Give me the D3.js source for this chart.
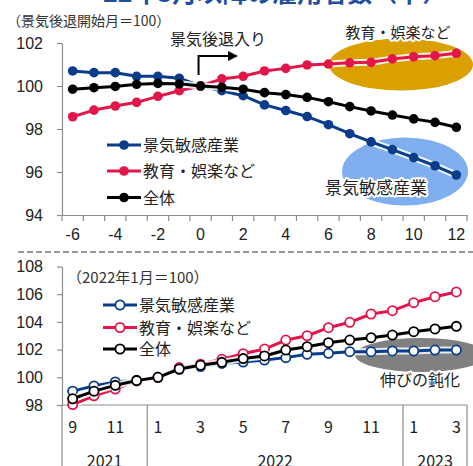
<!DOCTYPE html>
<html>
<head>
<meta charset="utf-8">
<script src="https://cdn.jsdelivr.net/npm/d3@7"></script>
<style>
body { margin: 0; background: #fff; }
svg { display: block; font-family: "Noto Sans CJK JP", "Noto Sans", sans-serif; }
</style>
</head>
<body>
<svg id="chart" width="473" height="466"></svg>
<script>
// upper panel: months from recession start (start month = 100)
const topMonths = [-6, -5, -4, -3, -2, -1, 0, 1, 2, 3, 4, 5, 6, 7, 8, 9, 10, 11, 12];
const topSensitive = [100.70, 100.62, 100.62, 100.45, 100.45, 100.36, 100.00, 99.78, 99.55, 99.12, 98.86, 98.58, 98.20, 97.78, 97.40, 97.04, 96.67, 96.29, 95.86];
const topEducation = [98.57, 98.88, 99.07, 99.24, 99.52, 99.78, 100.00, 100.33, 100.45, 100.70, 100.82, 100.98, 101.02, 101.08, 101.10, 101.26, 101.36, 101.41, 101.52];
const topTotal = [99.85, 99.92, 99.98, 100.08, 100.12, 100.10, 100.00, 99.94, 99.85, 99.69, 99.60, 99.47, 99.27, 99.04, 98.84, 98.65, 98.47, 98.31, 98.08];
const topTicks = [94, 96, 98, 100, 102];

// lower panel: 2021/9 - 2023/3 (2022/1 = 100)
const botMonths = ["2021/9", "2021/10", "2021/11", "2021/12", "2022/1", "2022/2", "2022/3", "2022/4", "2022/5", "2022/6",
  "2022/7", "2022/8", "2022/9", "2022/10", "2022/11", "2022/12", "2023/1", "2023/2", "2023/3"];
const botSensitive = [99.00, 99.38, 99.66, 99.78, 100.00, 100.58, 100.78, 101.00, 101.10, 101.25, 101.42, 101.66, 101.73, 101.85, 101.85, 101.90, 101.90, 101.97, 101.97];
const botEducation = [98.03, 98.66, 99.15, 99.74, 100.00, 100.70, 100.95, 101.30, 101.70, 102.04, 102.69, 103.00, 103.58, 103.97, 104.57, 104.81, 105.39, 105.82, 106.16];
const botTotal = [98.45, 99.00, 99.42, 99.76, 100.00, 100.60, 100.87, 101.08, 101.35, 101.54, 101.97, 102.21, 102.50, 102.69, 102.86, 103.05, 103.29, 103.49, 103.68];
const botTicks = [98, 100, 102, 104, 106, 108];

const seriesNames = ["景気敏感産業", "教育・娯楽など", "全体"];
const seriesColors = ["#0a3c8c", "#e3164a", "#000000"];

const svg = d3.select("#chart");
const axisColor = "#8c8c8c";
const textColor = "#222";

// title, mostly cut off at the top edge
svg.append("text")
    .attr("x", 103)
    .attr("y", 2)
    .attr("fill", "#1f4f9f")
    .style("font-size", "25px")
    .style("font-weight", "bold")
    .text("22年3月以降の雇用者数（下）");

let drawLeftAxis = (y, ticks, xPos) => {
    let g = svg.append("g")
        .attr("transform", "translate(" + xPos + ",0)")
        .call(d3.axisLeft(y).tickValues(ticks).tickSize(5).tickSizeOuter(0).tickPadding(14).tickFormat(d3.format("d")));
    g.select(".domain").attr("stroke", axisColor).attr("stroke-width", 1.2);
    g.selectAll(".tick line").attr("stroke", axisColor).attr("stroke-width", 1.2);
    g.selectAll(".tick text").attr("fill", textColor).style("font-size", "16px").style("font-family", "inherit");
};

let drawSeries = (x, y, cats, data, hollow) => {
    let line = d3.line()
        .x((d, i) => x(cats[i]) + x.bandwidth() / 2)
        .y(d => y(d));
    data.forEach((vals, k) => {
        svg.append("path")
            .attr("d", line(vals))
            .attr("fill", "none")
            .attr("stroke", "#fff")
            .attr("stroke-opacity", 0.85)
            .attr("stroke-width", 7)
            .attr("stroke-linejoin", "round");
        svg.append("path")
            .attr("d", line(vals))
            .attr("fill", "none")
            .attr("stroke", seriesColors[k])
            .attr("stroke-width", 3)
            .attr("stroke-linejoin", "round");
        svg.append("g").selectAll("circle")
            .data(vals)
            .join("circle")
            .attr("cx", (d, i) => x(cats[i]) + x.bandwidth() / 2)
            .attr("cy", d => y(d))
            .attr("r", hollow ? 4.6 : 4.8)
            .attr("fill", hollow ? "#fff" : seriesColors[k])
            .attr("stroke", hollow ? seriesColors[k] : "none")
            .attr("stroke-width", 1.8);
    });
};

let drawLegend = (x0, rows, hollow) => {
    seriesNames.forEach((name, k) => {
        svg.append("line")
            .attr("x1", x0).attr("x2", x0 + 34)
            .attr("y1", rows[k]).attr("y2", rows[k])
            .attr("stroke", seriesColors[k])
            .attr("stroke-width", 3);
        svg.append("circle")
            .attr("cx", x0 + 17).attr("cy", rows[k])
            .attr("r", hollow ? 4.6 : 4.8)
            .attr("fill", hollow ? "#fff" : seriesColors[k])
            .attr("stroke", hollow ? seriesColors[k] : "none")
            .attr("stroke-width", 1.8);
        svg.append("text")
            .attr("x", x0 + 36)
            .attr("y", rows[k] + 6)
            .attr("fill", textColor)
            .style("font-size", "16px")
            .text(name);
    });
};

let haloText = (txt, x, y, size, anchor) => {
    svg.append("text")
        .attr("x", x).attr("y", y)
        .attr("text-anchor", anchor)
        .attr("fill", textColor)
        .attr("stroke", "#fff")
        .attr("stroke-width", 4)
        .attr("stroke-linejoin", "round")
        .attr("paint-order", "stroke")
        .style("font-size", size + "px")
        .text(txt);
};

// ---------- upper panel ----------
let xTop = d3.scaleBand().domain(topMonths).range([62, 467]).padding(0);
let yTop = d3.scaleLinear().domain([94, 102]).range([215, 43]);

svg.append("text")
    .attr("x", 7).attr("y", 26)
    .attr("fill", "#333")
    .style("font-size", "14px")
    .text("（景気後退開始月＝100）");

drawLeftAxis(yTop, topTicks, 62);

let gx = svg.append("g")
    .attr("transform", "translate(0,215)")
    .call(d3.axisBottom(xTop).tickValues(topMonths.filter(m => m % 2 == 0)).tickSize(0).tickSizeOuter(0).tickPadding(14));
gx.select(".domain").attr("stroke", axisColor).attr("stroke-width", 1.2);
gx.selectAll(".tick text").attr("fill", textColor).style("font-size", "16px").style("font-family", "inherit");
svg.append("g").selectAll("line")
    .data(topMonths.map(m => xTop(m)).concat([xTop.range()[1]]))
    .join("line")
    .attr("x1", d => d).attr("x2", d => d)
    .attr("y1", 215).attr("y2", 221)
    .attr("stroke", axisColor)
    .attr("stroke-width", 1.2);

// highlight ellipses
svg.append("ellipse")
    .attr("cx", 401).attr("cy", 64.5).attr("rx", 72).attr("ry", 26)
    .attr("fill", "#d9a000");
svg.append("ellipse")
    .attr("cx", 405).attr("cy", 171.5).attr("rx", 63).attr("ry", 34)
    .attr("fill", "#80aff0");

drawSeries(xTop, yTop, topMonths, [topSensitive, topEducation, topTotal], false);

haloText("教育・娯楽など", 398, 38, 15, "middle");
haloText("景気敏感産業", 376, 194, 17, "middle");

// recession start marker
let x0 = xTop(0) + xTop.bandwidth() / 2;
svg.append("path")
    .attr("d", "M" + (x0 - 2) + ",75 V56 H229")
    .attr("fill", "none")
    .attr("stroke", "#000")
    .attr("stroke-width", 2);
svg.append("path")
    .attr("d", "M228,51 L238,56 L228,61 Z")
    .attr("fill", "#000");
svg.append("text")
    .attr("x", 170).attr("y", 45)
    .attr("fill", textColor)
    .style("font-size", "16px")
    .text("景気後退入り");

drawLegend(107, [145, 171, 197.5], false);

// separator
svg.append("line")
    .attr("x1", 18).attr("x2", 473)
    .attr("y1", 252).attr("y2", 252)
    .attr("stroke", "#999")
    .attr("stroke-width", 2)
    .attr("stroke-dasharray", "6 3");

// ---------- lower panel ----------
let xBot = d3.scaleBand().domain(botMonths).range([62, 467]).padding(0);
let yBot = d3.scaleLinear().domain([98, 108]).range([405, 266.5]);

drawLeftAxis(yBot, botTicks, 62);

svg.append("line")
    .attr("x1", 62).attr("x2", 467)
    .attr("y1", 405).attr("y2", 405)
    .attr("stroke", axisColor)
    .attr("stroke-width", 1.2);

// month labels every second month
svg.append("g").selectAll("text")
    .data(botMonths.filter((m, i) => i % 2 == 0))
    .join("text")
    .attr("x", d => xBot(d) + xBot.bandwidth() / 2)
    .attr("y", 433)
    .attr("text-anchor", "middle")
    .attr("fill", textColor)
    .style("font-size", "16px")
    .text(d => d.split("/")[1]);

// year groups
let years = Array.from(new Set(botMonths.map(m => m.split("/")[0])));
let bounds = years.map(yr => {
    let ms = botMonths.filter(m => m.startsWith(yr));
    return [xBot(ms[0]), xBot(ms[ms.length - 1]) + xBot.bandwidth()];
});
svg.append("g").selectAll("line")
    .data([bounds[0][0]].concat(bounds.map(b => b[1])))
    .join("line")
    .attr("x1", d => d).attr("x2", d => d)
    .attr("y1", 405).attr("y2", 470)
    .attr("stroke", axisColor)
    .attr("stroke-width", 1.2);
svg.append("g").selectAll("text")
    .data(years)
    .join("text")
    .attr("x", (d, i) => (bounds[i][0] + bounds[i][1]) / 2)
    .attr("y", 467)
    .attr("text-anchor", "middle")
    .attr("fill", textColor)
    .style("font-size", "16px")
    .text(d => d);

svg.append("ellipse")
    .attr("cx", 421).attr("cy", 355).attr("rx", 66).attr("ry", 17)
    .attr("fill", "#808080");

drawSeries(xBot, yBot, botMonths, [botSensitive, botEducation, botTotal], true);

haloText("伸びの鈍化", 420, 386, 16, "middle");

svg.append("text")
    .attr("x", 67).attr("y", 283)
    .attr("fill", "#333")
    .style("font-size", "15px")
    .text("（2022年1月＝100）");

drawLegend(103, [305, 327.5, 349], true);
</script>
</body>
</html>
